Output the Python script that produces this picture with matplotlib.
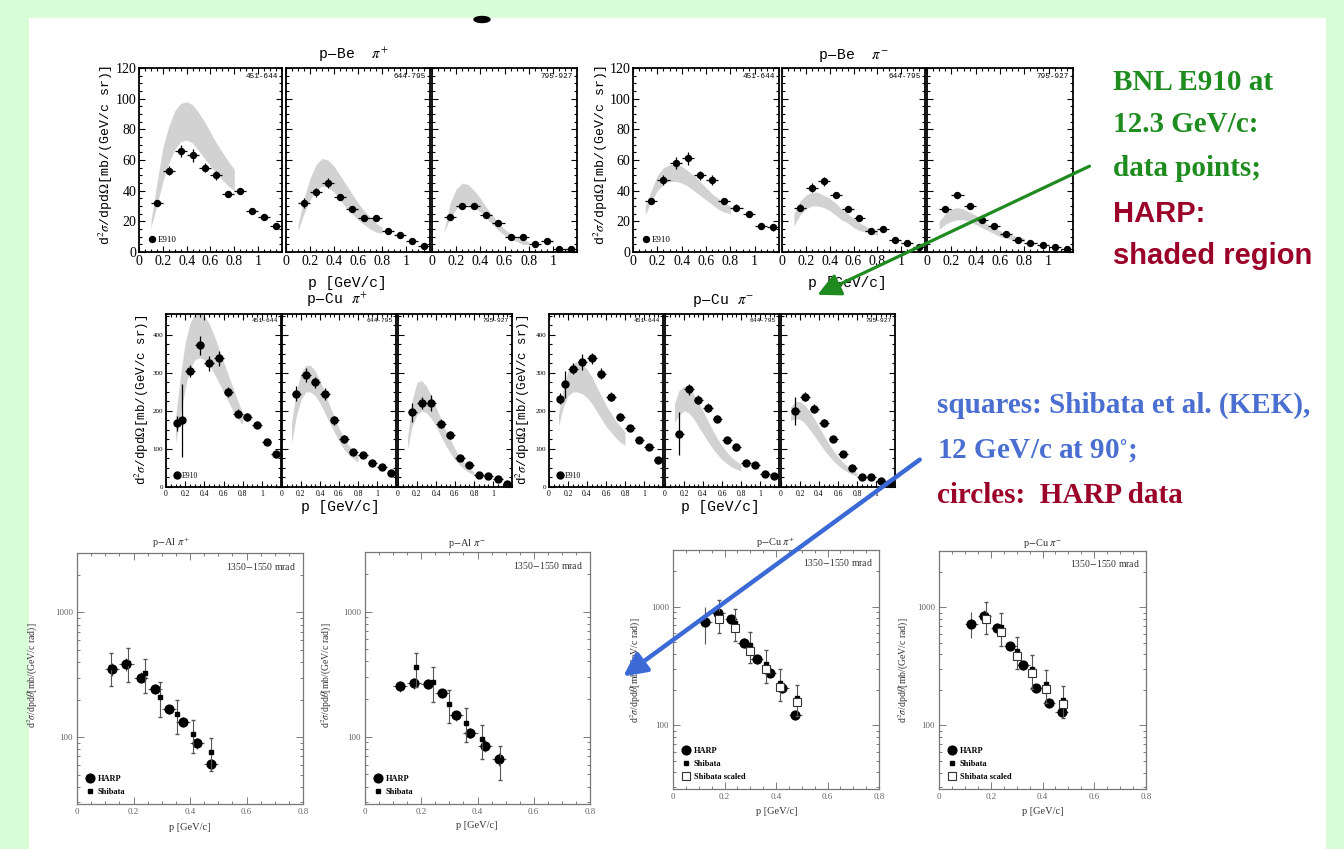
import matplotlib
matplotlib.use("Agg")
import matplotlib.pyplot as plt
from matplotlib.patches import Rectangle, FancyArrowPatch, Ellipse
from matplotlib.lines import Line2D
from matplotlib.ticker import MultipleLocator, NullFormatter

plt.rcParams["mathtext.fontset"] = "stix"

W, H = 1344, 849
SERIF = "Liberation Serif"
MONO = "Liberation Mono"
SANS = "Liberation Sans"
BAND_GREY = "#d2d2d2"
GREEN = "#1e8c1e"
RED = "#9a0028"
BLUE = "#4a6fd0"

# ---------------- data: E910 comparison (top and middle rows) ----------------
ANGLES = ["451-644", "644-795", "795-927"]
X_TICKS = [0, 0.2, 0.4, 0.6, 0.8, 1.0]
X_TICK_LABELS = ["0", "0.2", "0.4", "0.6", "0.8", "1"]

BAND_P = [0.10, 0.15, 0.20, 0.25, 0.30, 0.35, 0.40, 0.45, 0.50, 0.55, 0.60, 0.65, 0.70, 0.75, 0.80]
P_STD = [0.15, 0.25, 0.35, 0.45, 0.55, 0.65, 0.75, 0.85, 0.95, 1.05, 1.15]
P_CU_FIRST = [0.115, 0.17, 0.25, 0.35, 0.45, 0.55, 0.65, 0.75, 0.85, 0.95, 1.05, 1.15]
XERR_STD = [0.05] * 11
XERR_CU_FIRST = [0.02, 0.02] + [0.05] * 10

# p-Be pi+
BE_PIP_Y = [[32, 53, 66, 63, 55, 50, 38, 40, 27, 23, 17],
            [32, 39, 45, 36, 28, 22, 22, 14, 11, 7, 4],
            [23, 30, 30, 24, 19, 10, 10, 5, 7, 2, 2]]
BE_PIP_ERR = [[2, 3, 4, 4, 3, 3, 2, 2, 2, 2, 2],
              [3, 3, 3, 2, 2, 2, 2, 1.5, 1.5, 1, 1],
              [2, 2, 2, 2, 2, 1.5, 1.5, 1, 1, 1, 1]]
BE_PIP_LO = [[16, 30, 46, 58, 67, 72, 73, 71, 66, 61, 56, 51, 47, 43, 40],
             [14, 25, 34, 40, 43, 42, 39, 34, 29, 25, 21, 18, 15, 13, 12],
             [13, 22, 28, 31, 31, 29, 26, 22, 18, 14, 11, 8, 7, 5, 5]]
BE_PIP_HI = [[20, 45, 68, 82, 92, 97, 98, 96, 91, 85, 78, 71, 65, 59, 54],
             [18, 35, 48, 57, 61, 60, 56, 50, 44, 38, 32, 27, 23, 19, 16],
             [14, 32, 41, 45, 44, 40, 35, 29, 24, 19, 15, 12, 10, 8, 7]]

# p-Be pi-
BE_PIM_Y = [[33, 47, 58, 61, 50, 47, 33, 29, 25, 17, 16],
            [29, 42, 46, 37, 28, 22, 14, 15, 8, 6, 3.5],
            [28, 37, 30, 21, 17, 12, 8, 6, 4.5, 3, 2]]
BE_PIM_ERR = [[2, 3, 4, 4, 3, 3, 2, 2, 2, 2, 2],
              [2, 3, 3, 2, 2, 2, 1.5, 1.5, 1, 1, 1],
              [2, 2, 2, 1.5, 1.5, 1, 1, 1, 1, 1, 1]]
BE_PIM_LO = [[24, 33, 40, 44, 46, 46, 45, 43, 40, 37, 34, 31, 28, 26, 25],
             [17, 24, 28, 30, 30, 29, 27, 24, 21, 19, 16, 14, 13, 12, 11],
             [15, 18, 20, 21, 21, 20, 18, 16, 14, 12, 10, 9, 8, 7, 7]]
BE_PIM_HI = [[30, 40, 50, 55, 57, 57, 56, 53, 50, 46, 42, 38, 35, 32, 30],
             [25, 33, 37, 39, 39, 37, 35, 32, 28, 25, 22, 19, 17, 15, 14],
             [20, 25, 28, 29, 28, 26, 24, 21, 18, 16, 14, 12, 11, 10, 9]]

# p-Cu pi+
CU_PIP_Y = [[168, 175, 305, 373, 325, 338, 250, 193, 184, 164, 118, 88],
            [245, 295, 275, 245, 175, 127, 92, 83, 63, 53, 37],
            [197, 221, 221, 167, 136, 76, 57, 31, 29, 22, 7]]
CU_PIP_ERR = [[20, 95, 15, 25, 20, 20, 12, 12, 10, 10, 8, 6],
              [20, 18, 15, 15, 12, 10, 8, 7, 6, 5, 4],
              [25, 15, 20, 12, 10, 8, 6, 4, 4, 3, 2]]
CU_PIP_LO = [[115, 190, 260, 310, 335, 340, 335, 320, 300, 275, 250, 225, 200, 180, 165],
             [115, 185, 230, 250, 250, 240, 220, 195, 170, 145, 120, 100, 85, 75, 65],
             [100, 160, 190, 200, 195, 180, 160, 135, 110, 90, 72, 58, 46, 38, 32]]
CU_PIP_HI = [[185, 290, 380, 430, 455, 460, 450, 430, 400, 365, 330, 295, 260, 225, 195],
             [170, 250, 300, 320, 320, 305, 280, 250, 215, 185, 155, 130, 110, 95, 85],
             [130, 230, 275, 280, 265, 240, 210, 180, 150, 125, 100, 80, 65, 50, 40]]

# p-Cu pi-
CU_PIM_Y = [[232, 270, 311, 329, 338, 298, 237, 184, 154, 123, 105, 72],
            [140, 257, 230, 209, 180, 123, 105, 63, 57, 35, 28],
            [200, 237, 206, 169, 127, 88, 51, 26, 26, 16, 10]]
CU_PIM_ERR = [[15, 35, 15, 20, 15, 15, 12, 10, 8, 7, 6, 5],
              [57, 15, 12, 12, 10, 8, 7, 5, 4, 3, 3],
              [37, 12, 12, 10, 8, 6, 4, 3, 3, 2, 2]]
CU_PIM_LO = [[160, 210, 240, 250, 250, 245, 235, 220, 200, 180, 160, 145, 130, 118, 110],
             [170, 190, 200, 195, 180, 160, 140, 120, 102, 86, 72, 62, 53, 47, 42],
             [175, 180, 178, 168, 152, 135, 117, 99, 83, 69, 57, 47, 39, 33, 28]]
CU_PIM_HI = [[190, 260, 305, 325, 330, 325, 310, 290, 265, 240, 215, 195, 175, 160, 145],
             [220, 255, 265, 260, 245, 225, 200, 175, 150, 128, 108, 92, 78, 68, 60],
             [210, 225, 225, 215, 200, 180, 158, 136, 115, 96, 80, 66, 54, 45, 38]]

# ---------------- data: HARP vs Shibata (bottom row) ----------------
HARP_P = [0.125, 0.175, 0.225, 0.275, 0.325, 0.375, 0.425, 0.475]
SHIB_P = [0.18, 0.24, 0.30, 0.36, 0.415, 0.48]

AL_PIP_HARP_Y = [350, 385, 300, 245, 168, 133, 89, 61]
AL_PIP_HARP_ERR = [40, 45, 30, 22, 14, 12, 9, 7]
AL_PIP_SHIB_P = [0.12, 0.18, 0.24, 0.295, 0.355, 0.41, 0.475]
AL_PIP_SHIB_Y = [365, 395, 326, 210, 152, 106, 76]
AL_PIP_SHIB_ERR = [110, 120, 100, 65, 47, 32, 23]

AL_PIM_HARP_Y = [255, 268, 265, 223, 148, 108, 85, 66]
AL_PIM_HARP_ERR = [25, 25, 25, 20, 14, 10, 9, 8]
AL_PIM_SHIB_Y = [360, 273, 183, 130, 96, 65]
AL_PIM_SHIB_ERR = [110, 85, 55, 40, 29, 20]

CU_PIP_HARP_Y = [741, 880, 785, 497, 361, 277, 204, 122]
CU_PIP_HARP_ERR = [255, 80, 70, 45, 30, 25, 18, 12]
CU_PIP_SHIB_Y = [870, 728, 472, 329, 229, 169]
CU_PIP_SHIB_ERR = [270, 220, 140, 100, 70, 50]
CU_PIP_SCALED_Y = [785, 661, 424, 298, 208, 156]

CU_PIM_HARP_Y = [728, 842, 675, 467, 322, 207, 156, 131]
CU_PIM_HARP_ERR = [180, 100, 60, 40, 28, 18, 14, 12]
CU_PIM_SHIB_Y = [853, 682, 431, 298, 224, 165]
CU_PIM_SHIB_ERR = [260, 210, 130, 95, 70, 50]
CU_PIM_SCALED_Y = [800, 621, 390, 277, 204, 153]


def px_axes(fig, left, top, right, bottom):
    return fig.add_axes([left / W, 1 - bottom / H, (right - left) / W, (bottom - top) / H])


def fig_text(fig, x, y, s, **kw):
    fig.text(x / W, 1 - y / H, s, **kw)


def e910_group(fig, lefts, rights, top, bottom, ymax, ystep, yminor,
               p_sets, ys, errs, xerrs, lo, hi, tick_fs, ytick_fs, ang_fs, ms):
    axes = []
    for i in range(3):
        ax = px_axes(fig, lefts[i], top, rights[i], bottom)
        ax.fill_between(BAND_P, lo[i], hi[i], color=BAND_GREY, lw=0, zorder=1)
        ax.errorbar(p_sets[i], ys[i], xerr=xerrs[i], yerr=errs[i], fmt="o", ms=ms,
                    color="black", elinewidth=0.9, capsize=0, zorder=3)
        ax.set_xlim(0, 1.2)
        ax.set_ylim(0, ymax)
        ax.set_xticks(X_TICKS)
        ax.set_xticklabels(X_TICK_LABELS, fontsize=tick_fs, family=SERIF)
        ax.xaxis.set_minor_locator(MultipleLocator(0.05))
        ax.yaxis.set_major_locator(MultipleLocator(ystep))
        ax.yaxis.set_minor_locator(MultipleLocator(yminor))
        ax.tick_params(which="both", direction="in", top=True, right=True, width=0.8, pad=2)
        ax.tick_params(which="major", length=4)
        ax.tick_params(which="minor", length=2)
        if i > 0:
            ax.set_yticklabels([])
        else:
            for lab in ax.get_yticklabels():
                lab.set_fontsize(ytick_fs)
                lab.set_family(SERIF)
        for s in ax.spines.values():
            s.set_linewidth(1.3)
        ax.text(0.97, 0.975, ANGLES[i], transform=ax.transAxes, ha="right", va="top",
                fontsize=ang_fs, family=MONO)
        axes.append(ax)
    h = Line2D([], [], marker="o", ls="none", color="black", ms=ms)
    axes[0].legend([h], ["E910"], loc="lower left", frameon=False,
                   handletextpad=0.2, borderaxespad=0.5, handlelength=1.0,
                   prop={"family": SERIF, "size": ang_fs + 1})
    return axes


def shibata_panel(fig, box, harp_y, harp_err, shib_p, shib_y, shib_err, scaled_y=None):
    ax = px_axes(fig, *box)
    grey = "#444444"
    ax.errorbar(HARP_P, harp_y, xerr=0.025, yerr=harp_err, fmt="o", ms=6.3,
                color="black", ecolor="#555555", elinewidth=0.8, capsize=0, zorder=3)
    ax.errorbar(shib_p, shib_y, yerr=shib_err, fmt="s", ms=3.4, color="black",
                ecolor="#555555", elinewidth=0.8, capsize=1.5, zorder=4)
    handles = [Line2D([], [], marker="o", ls="none", color="black", ms=6.3),
               Line2D([], [], marker="s", ls="none", color="black", ms=3.4)]
    labels = ["HARP", "Shibata"]
    if scaled_y is not None:
        ax.plot(shib_p, scaled_y, "s", ms=6, mfc="white", mec="#333333", mew=0.8, zorder=5)
        handles.append(Line2D([], [], marker="s", ls="none", ms=6, mfc="white", mec="#333333", mew=0.8))
        labels.append("Shibata scaled")
    ax.set_yscale("log")
    ax.set_ylim(29, 3000)
    ax.set_xlim(0, 0.8)
    ax.set_xticks([0, 0.2, 0.4, 0.6, 0.8])
    ax.set_xticklabels(["0", "0.2", "0.4", "0.6", "0.8"], fontsize=6.5, family=SERIF, color=grey)
    ax.xaxis.set_minor_locator(MultipleLocator(0.05))
    ax.set_yticks([100, 1000])
    ax.set_yticklabels(["100", "1000"], fontsize=6.5, family=SERIF, color=grey)
    ax.yaxis.set_minor_formatter(NullFormatter())
    ax.tick_params(which="both", direction="in", top=True, right=True, width=0.6, colors="#666666", pad=3)
    ax.tick_params(which="major", length=5)
    ax.tick_params(which="minor", length=2.5)
    for s in ax.spines.values():
        s.set_linewidth(0.9)
        s.set_color("#777777")
    ax.text(0.97, 0.97, "1350$-$1550 mrad", transform=ax.transAxes, ha="right", va="top",
            fontsize=7, family=SERIF, color="#333333")
    ax.legend(handles, labels, loc="lower left", frameon=False, handletextpad=0.5,
              borderaxespad=0.6, labelspacing=0.6, handlelength=1.0,
              prop={"family": SERIF, "size": 6, "weight": "bold"})
    return ax


def main():
    fig = plt.figure(figsize=(W / 100, H / 100), dpi=100)
    fig.patch.set_facecolor("#d6fdd6")
    fig.patches.append(Rectangle((29 / W, 0), (1325 - 29) / W, 1 - 18 / H,
                                 transform=fig.transFigure, color="white", zorder=-5))
    fig.patches.append(Ellipse((482 / W, 1 - 19.5 / H), 16 / W, 6 / H,
                               transform=fig.transFigure, color="black", zorder=-4))

    # ---- top row: p-Be ----
    e910_group(fig, [139, 286, 432], [282, 430, 577], 68, 252, 120, 20, 5,
               [P_STD] * 3, BE_PIP_Y, BE_PIP_ERR, [XERR_STD] * 3, BE_PIP_LO, BE_PIP_HI,
               10, 10, 5.5, 4.3)
    e910_group(fig, [633, 782, 927], [779, 925, 1073], 68, 252, 120, 20, 5,
               [P_STD] * 3, BE_PIM_Y, BE_PIM_ERR, [XERR_STD] * 3, BE_PIM_LO, BE_PIM_HI,
               10, 10, 5.5, 4.3)
    ylab_top = "d$^2\\sigma$/dpd$\\Omega$[mb/(GeV/c sr)]"
    for cx, title in [(353, "p$-$Be  $\\pi^{+}$"), (853, "p$-$Be  $\\pi^{-}$")]:
        fig_text(fig, cx, 55, title, ha="center", va="center", fontsize=10.5, family=MONO)
        fig_text(fig, cx - 6, 283, "p [GeV/c]", ha="center", va="center", fontsize=10.5, family=MONO)
    fig_text(fig, 106, 155, ylab_top, rotation=90, ha="center", va="center", fontsize=9.5, family=MONO)
    fig_text(fig, 601, 155, ylab_top, rotation=90, ha="center", va="center", fontsize=9.5, family=MONO)

    # ---- middle row: p-Cu ----
    e910_group(fig, [166, 282, 398], [281, 396, 512], 314, 487, 455, 100, 25,
               [P_CU_FIRST, P_STD, P_STD], CU_PIP_Y, CU_PIP_ERR,
               [XERR_CU_FIRST, XERR_STD, XERR_STD], CU_PIP_LO, CU_PIP_HI, 5.5, 5, 4.5, 5)
    e910_group(fig, [549, 665, 781], [663, 779, 895], 314, 487, 455, 100, 25,
               [P_CU_FIRST, P_STD, P_STD], CU_PIM_Y, CU_PIM_ERR,
               [XERR_CU_FIRST, XERR_STD, XERR_STD], CU_PIM_LO, CU_PIM_HI, 5.5, 5, 4.5, 5)
    fig_text(fig, 337, 300, "p$-$Cu $\\pi^{+}$", ha="center", va="center", fontsize=10.5, family=MONO)
    fig_text(fig, 723, 300, "p$-$Cu $\\pi^{-}$", ha="center", va="center", fontsize=10.5, family=MONO)
    fig_text(fig, 340, 507, "p [GeV/c]", ha="center", va="center", fontsize=10.5, family=MONO)
    fig_text(fig, 720, 507, "p [GeV/c]", ha="center", va="center", fontsize=10.5, family=MONO)
    fig_text(fig, 142, 400, ylab_top, rotation=90, ha="center", va="center", fontsize=9, family=MONO)
    fig_text(fig, 523, 400, ylab_top, rotation=90, ha="center", va="center", fontsize=9, family=MONO)

    # ---- bottom row: HARP vs Shibata ----
    shibata_panel(fig, (77, 553, 303, 804), AL_PIP_HARP_Y, AL_PIP_HARP_ERR,
                  AL_PIP_SHIB_P, AL_PIP_SHIB_Y, AL_PIP_SHIB_ERR)
    shibata_panel(fig, (365, 552, 590, 804), AL_PIM_HARP_Y, AL_PIM_HARP_ERR,
                  SHIB_P, AL_PIM_SHIB_Y, AL_PIM_SHIB_ERR)
    shibata_panel(fig, (673, 550, 879, 789), CU_PIP_HARP_Y, CU_PIP_HARP_ERR,
                  SHIB_P, CU_PIP_SHIB_Y, CU_PIP_SHIB_ERR, CU_PIP_SCALED_Y)
    shibata_panel(fig, (939, 551, 1146, 789), CU_PIM_HARP_Y, CU_PIM_HARP_ERR,
                  SHIB_P, CU_PIM_SHIB_Y, CU_PIM_SHIB_ERR, CU_PIM_SCALED_Y)
    ylab_bot = "d$^2\\sigma$/dpd$\\theta$[mb/(GeV/c rad)]"
    bottom_titles = [(171, "p$-$Al $\\pi^{+}$"), (467, "p$-$Al $\\pi^{-}$"),
                     (776, "p$-$Cu $\\pi^{+}$"), (1043, "p$-$Cu $\\pi^{-}$")]
    for cx, t in bottom_titles:
        fig_text(fig, cx, 543, t, ha="center", va="center", fontsize=7.5, family=SERIF, color="#333333")
    for cx, cy in [(190, 827), (477, 825), (777, 812), (1043, 812)]:
        fig_text(fig, cx, cy, "p [GeV/c]", ha="center", va="center", fontsize=7.5, family=SERIF, color="#333333")
    for cx, cy in [(33, 675), (327, 675), (636, 670), (904, 670)]:
        fig_text(fig, cx, cy, ylab_bot, rotation=90, ha="center", va="center", fontsize=7, family=SERIF, color="#333333")

    # ---- annotations ----
    fs = 21
    fig_text(fig, 1113, 82, "BNL E910 at", color=GREEN, fontsize=fs, family=SERIF, weight="bold", va="center")
    fig_text(fig, 1113, 124, "12.3 GeV/c:", color=GREEN, fontsize=fs, family=SERIF, weight="bold", va="center")
    fig_text(fig, 1113, 169, "data points;", color=GREEN, fontsize=fs, family=SERIF, weight="bold", va="center")
    fig_text(fig, 1113, 214, "HARP:", color=RED, fontsize=fs, family=SANS, weight="bold", va="center")
    fig_text(fig, 1113, 256, "shaded region", color=RED, fontsize=fs, family=SANS, weight="bold", va="center")
    fig_text(fig, 937, 405, "squares: Shibata et al. (KEK),", color=BLUE, fontsize=fs, family=SERIF, weight="bold", va="center")
    fig_text(fig, 937, 450, "12 GeV/c at 90$^{\\circ}$;", color=BLUE, fontsize=fs, family=SERIF, weight="bold", va="center")
    fig_text(fig, 937, 495, "circles:  HARP data", color=RED, fontsize=fs, family=SERIF, weight="bold", va="center")

    for (x0, y0), (x1, y1), col, lw in [((1092, 165), (815, 296), "#1f8a1f", 2.3),
                                         ((922, 458), (621, 678), "#3b6ad6", 3.2)]:
        arr = FancyArrowPatch((x0 / W, 1 - y0 / H), (x1 / W, 1 - y1 / H), transform=fig.transFigure,
                              arrowstyle="-|>,head_length=0.7,head_width=0.35", mutation_scale=20,
                              color=col, lw=lw, zorder=20)
        fig.add_artist(arr)

    fig.savefig("out.png", dpi=100, facecolor=fig.get_facecolor())


if __name__ == "__main__":
    main()
